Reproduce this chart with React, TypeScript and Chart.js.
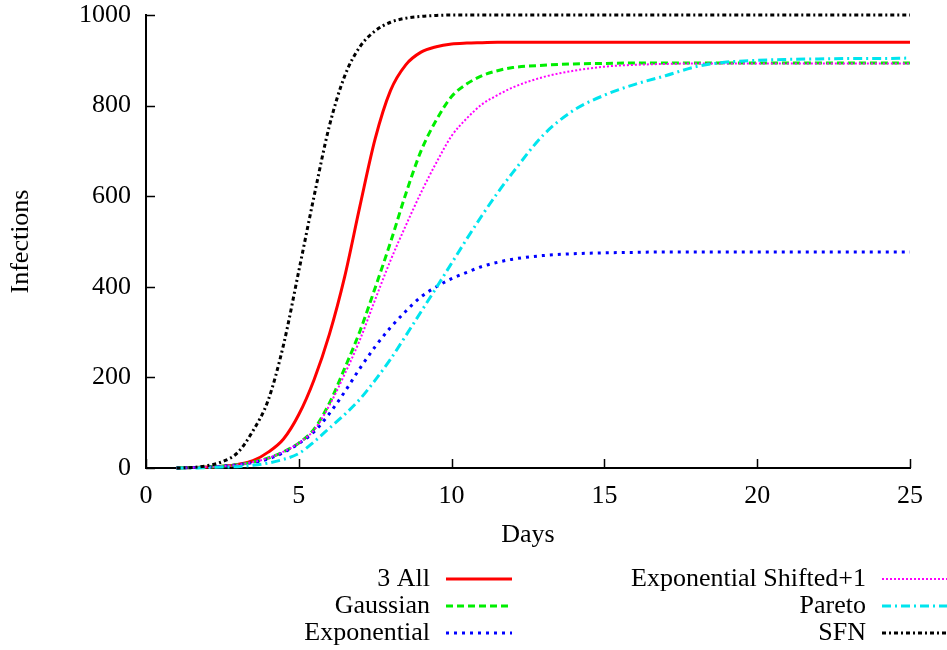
import React, { useEffect, useRef } from "react";
import { Chart, registerables } from "chart.js";

Chart.register(...registerables);

// Sample days (half-day steps through the steep part of the epidemic curves)
const days = [
  1, 1.5, 2, 2.5, 3, 3.5, 4, 4.5, 5, 5.5, 6, 6.5, 7, 7.5, 8, 8.5, 9, 9.5, 10,
  10.5, 11, 11.5, 12, 13, 14, 15, 16, 17, 18, 19, 20, 21, 22, 23, 24, 25,
];

// Cumulative infections per model
const allThree = [
  0, 1, 2, 4, 8, 16, 35, 64, 118, 195, 295, 422, 578, 727, 833, 890, 918, 930,
  936, 938, 939, 940, 940, 940, 940, 940, 940, 940, 940, 940, 940, 940, 940,
  940, 940, 940,
];
const gaussian = [
  0, 1, 2, 4, 7, 13, 22, 36, 55, 86, 143, 220, 302, 398, 498, 605, 700, 768,
  820, 848, 866, 877, 884, 889, 892, 893, 894, 894, 894, 894, 894, 894, 894,
  894, 894, 894,
];
const exponential = [
  0, 1, 2, 4, 7, 12, 20, 34, 54, 80, 120, 168, 220, 268, 310, 346, 378, 400,
  418, 432, 445, 454, 461, 469, 473, 475, 476, 477, 477, 477, 477, 477, 477,
  477, 477, 477,
];
const expShifted = [
  0, 1, 2, 4, 7, 13, 22, 36, 55, 84, 138, 207, 283, 372, 458, 535, 608, 674,
  733, 772, 803, 823, 840, 863, 877, 886, 890, 892, 893, 893, 893, 893, 893,
  893, 893, 893,
];
const pareto = [
  0, 0, 1, 2, 3, 6, 11, 19, 32, 58, 88, 118, 152, 194, 240, 292, 345, 398,
  452, 506, 558, 607, 652, 735, 790, 823, 847, 866, 886, 896, 900, 902, 903,
  904, 904, 905,
];
const sfn = [
  0, 1, 5, 14, 34, 82, 150, 272, 435, 600, 755, 865, 930, 965, 984, 993, 997,
  999, 1000, 1000, 1000, 1000, 1000, 1000, 1000, 1000, 1000, 1000, 1000, 1000,
  1000, 1000, 1000, 1000, 1000, 1000,
];

const seriesLabels = [
  "3 All",
  "Gaussian",
  "Exponential",
  "Exponential Shifted+1",
  "Pareto",
  "SFN",
];
const seriesValues = [allThree, gaussian, exponential, expShifted, pareto, sfn];

const xMin = 0;
const xMax = 25;
const xStep = 5;
const yMin = 0;
const yMax = 1000;
const yStep = 200;

const FONT = '"Liberation Serif", "Times New Roman", Times, serif';
const FONT_SIZE = 26;

const styles = [
  { color: "#ff0000", dash: [] as number[], width: 3 },
  { color: "#00ee00", dash: [7, 4], width: 3 },
  { color: "#0000ff", dash: [3, 5], width: 3 },
  { color: "#ff00ff", dash: [2, 2], width: 2 },
  { color: "#00e5ee", dash: [9, 4, 2, 4], width: 3 },
  { color: "#000000", dash: [4, 3, 2, 3], width: 3 },
];

// Inward tick marks on the left and bottom axes
const tickMarks = {
  id: "tickMarks",
  afterDatasetsDraw(chart: any) {
    const { ctx, chartArea } = chart;
    const xs = chart.scales.x;
    const ys = chart.scales.y;
    const len = 9;
    ctx.save();
    ctx.strokeStyle = "#000";
    ctx.lineWidth = 1.5;
    ctx.beginPath();
    xs.ticks.forEach((t: any) => {
      const px = Math.round(xs.getPixelForValue(t.value)) + 0.5;
      ctx.moveTo(px, chartArea.bottom);
      ctx.lineTo(px, chartArea.bottom - len);
    });
    ys.ticks.forEach((t: any) => {
      const py = Math.round(ys.getPixelForValue(t.value)) + 0.5;
      ctx.moveTo(chartArea.left, py);
      ctx.lineTo(chartArea.left + len, py);
    });
    ctx.stroke();
    ctx.restore();
  },
};

// Two-column key below the plot: right-aligned label followed by a line sample
const keyBox = {
  id: "keyBox",
  afterDraw(chart: any) {
    const { ctx } = chart;
    const colRight = [430, 866];
    const firstRow = 579;
    const rowGap = 27;
    ctx.save();
    ctx.font = `${FONT_SIZE}px ${FONT}`;
    ctx.fillStyle = "#000";
    ctx.textAlign = "right";
    ctx.textBaseline = "middle";
    chart.data.datasets.forEach((ds: any, i: number) => {
      const col = Math.floor(i / 3);
      const row = i % 3;
      const right = colRight[col];
      const y = firstRow + row * rowGap;
      ctx.fillText(ds.label, right, y);
      ctx.save();
      ctx.strokeStyle = ds.borderColor;
      ctx.lineWidth = ds.borderWidth;
      ctx.setLineDash(ds.borderDash || []);
      ctx.beginPath();
      ctx.moveTo(right + 16, y);
      ctx.lineTo(right + 82, y);
      ctx.stroke();
      ctx.restore();
    });
    ctx.restore();
  },
};

export default function App() {
  const canvasRef = useRef<HTMLCanvasElement | null>(null);

  useEffect(() => {
    document.body.style.margin = "0";
    const canvas = canvasRef.current;
    if (!canvas) return;

    const datasets = seriesLabels.map((label, i) => ({
      label,
      data: days.map((d, k) => ({ x: d, y: seriesValues[i][k] })),
      borderColor: styles[i].color,
      backgroundColor: styles[i].color,
      borderWidth: styles[i].width,
      borderDash: styles[i].dash,
      pointRadius: 0,
      fill: false,
      cubicInterpolationMode: "monotone" as const,
      clip: false as const,
      order: seriesLabels.length - i,
    }));

    const chart = new Chart(canvas, {
      type: "line",
      data: { datasets },
      options: {
        responsive: false,
        animation: false,
        devicePixelRatio: 1,
        layout: { padding: { top: 15, right: 37, bottom: 95, left: 0 } },
        plugins: {
          legend: { display: false },
          tooltip: { enabled: false },
        },
        scales: {
          x: {
            type: "linear",
            min: xMin,
            max: xMax,
            grid: { display: false },
            border: { display: true, color: "#000", width: 2 },
            ticks: {
              stepSize: xStep,
              color: "#000",
              padding: 5,
              maxRotation: 0,
              font: { family: FONT, size: FONT_SIZE, lineHeight: 1.2 },
              callback: (v: any) => String(v),
            },
            title: {
              display: true,
              text: "Days",
              color: "#000",
              padding: { top: 4, bottom: 4 },
              font: { family: FONT, size: FONT_SIZE, lineHeight: 1.2 },
            },
            afterFit(scale: any) {
              scale.height = 87;
              scale.paddingLeft = 0;
              scale.paddingRight = 0;
            },
          },
          y: {
            type: "linear",
            min: yMin,
            max: yMax,
            grid: { display: false },
            border: { display: true, color: "#000", width: 2 },
            ticks: {
              stepSize: yStep,
              color: "#000",
              padding: 7,
              font: { family: FONT, size: FONT_SIZE, lineHeight: 1 },
              callback: (v: any) => String(v),
            },
            title: {
              display: true,
              text: "Infections",
              color: "#000",
              padding: { top: 6, bottom: 4 },
              font: { family: FONT, size: FONT_SIZE, lineHeight: 1.2 },
            },
            afterFit(scale: any) {
              scale.width = 146;
              scale.paddingTop = 0;
              scale.paddingBottom = 0;
            },
          },
        },
      },
      plugins: [tickMarks, keyBox],
    });

    return () => chart.destroy();
  }, []);

  return (
    <div style={{ width: 947, height: 650, background: "#fff" }}>
      <canvas
        ref={canvasRef}
        width={947}
        height={650}
        style={{ display: "block", width: 947, height: 650 }}
      />
    </div>
  );
}
